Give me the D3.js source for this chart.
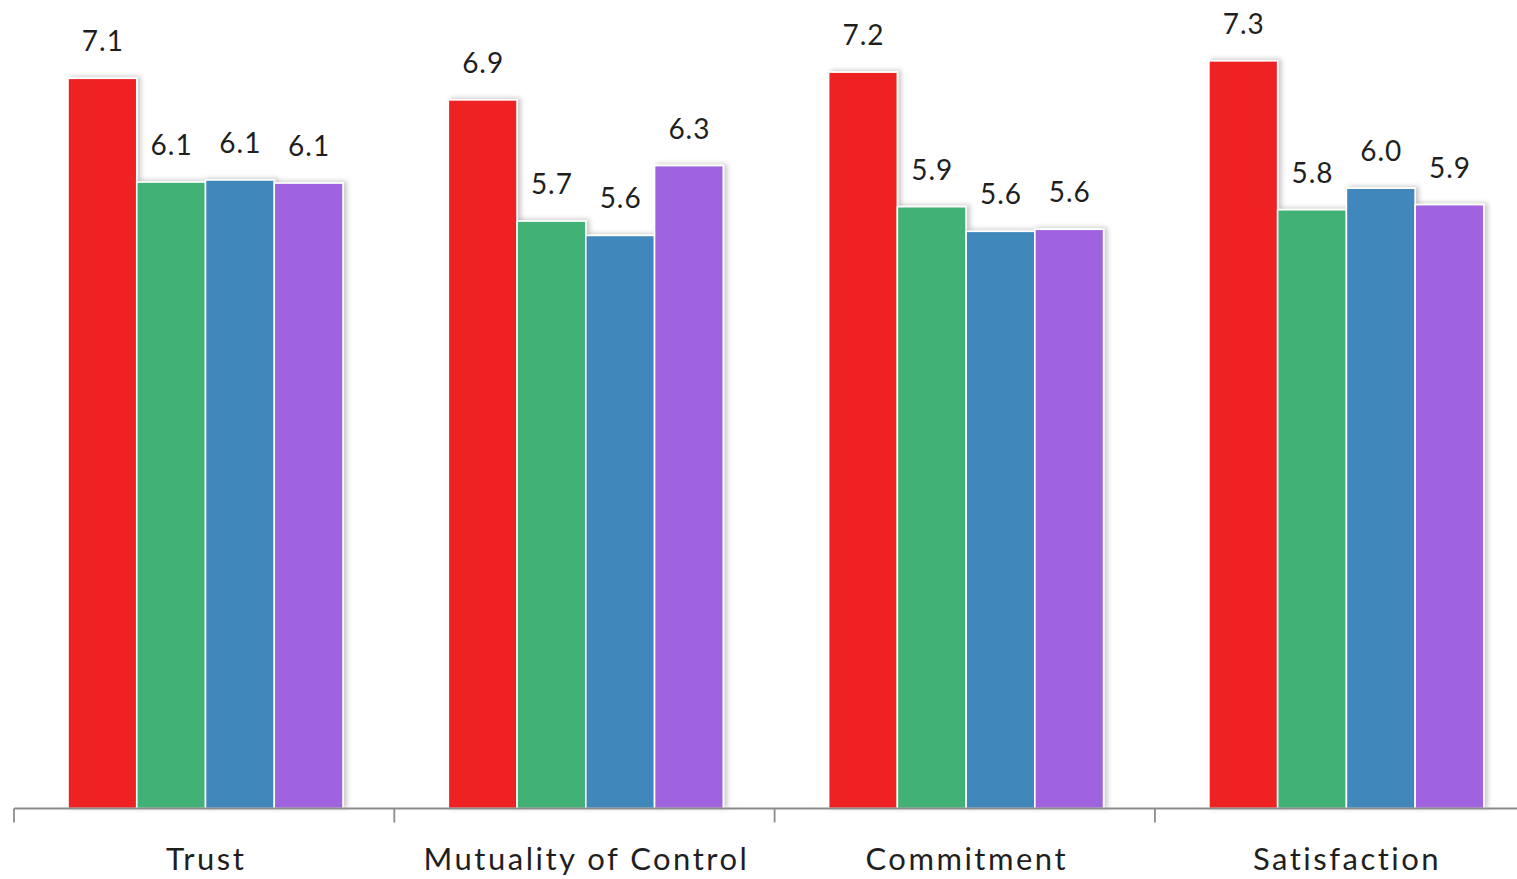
<!DOCTYPE html>
<html>
<head>
<meta charset="utf-8">
<script src="https://cdn.jsdelivr.net/npm/d3@7"></script>
<style>
  html, body { margin: 0; padding: 0; background: #fff; }
  svg { display: block; }
  .value-label { font-family: Lato, "Open Sans", sans-serif; font-size: 28px; letter-spacing: 1px; fill: #1f1f1f; }
  .cat-label { font-family: Lato, "Open Sans", sans-serif; font-size: 31px; letter-spacing: 2.5px; fill: #1f1f1f; }
</style>
</head>
<body>
<svg id="chart" width="1517" height="879"></svg>
<script>
const categories = ['Trust', 'Mutuality of Control', 'Commitment', 'Satisfaction'];
const seriesNames = ['s1', 's2', 's3', 's4'];
const seriesColors = ['#ee2224', '#42b174', '#4187bb', '#a064e0'];

// values, one array per series
const s1Values = [7.11, 6.90, 7.17, 7.28];
const s2Values = [6.10, 5.72, 5.86, 5.83];
const s3Values = [6.12, 5.58, 5.62, 6.04];
const s4Values = [6.09, 6.26, 5.64, 5.88];

const allSeries = [s1Values, s2Values, s3Values, s4Values];
const rows = categories.map((c, i) => ({
  category: c,
  values: allSeries.map((vals, j) => ({series: seriesNames[j], color: seriesColors[j], value: vals[i]}))
}));

const svg = d3.select('#chart');
const baseY = 808.5;
const bandStart = 14, bandStep = 380.3;

const x0 = d3.scaleBand()
  .domain(categories)
  .range([bandStart, bandStart + bandStep * categories.length])
  .padding(0);
const x1 = d3.scaleBand()
  .domain(seriesNames)
  .range([54, 329])
  .padding(0);
const y = d3.scaleLinear()
  .domain([0, 8])
  .range([baseY, baseY - 8 * 102.7]);

const defs = svg.append('defs');
const shadow = defs.append('filter')
  .attr('id', 'barShadow')
  .attr('x', '-20%').attr('y', '-5%')
  .attr('width', '150%').attr('height', '110%');
shadow.append('feDropShadow')
  .attr('dx', 3).attr('dy', -1)
  .attr('stdDeviation', 2.5)
  .attr('flood-color', '#000')
  .attr('flood-opacity', 0.22);

const groups = svg.append('g').attr('class', 'groups')
  .selectAll('g.cat')
  .data(rows)
  .join('g')
  .attr('class', 'cat')
  .attr('transform', d => `translate(${x0(d.category)},0)`);

groups.selectAll('rect')
  .data(d => d.values)
  .join('rect')
  .attr('x', d => x1(d.series))
  .attr('y', d => y(d.value))
  .attr('width', x1.bandwidth())
  .attr('height', d => baseY - y(d.value))
  .attr('fill', d => d.color)
  .attr('stroke', '#fff')
  .attr('stroke-width', 1.6)
  .attr('filter', 'url(#barShadow)');

groups.selectAll('text.value-label')
  .data(d => d.values)
  .join('text')
  .attr('class', 'value-label')
  .attr('x', d => x1(d.series) + x1.bandwidth() / 2 + 0.5)
  .attr('y', d => y(d.value) - 27)
  .attr('text-anchor', 'middle')
  .text(d => d.value.toFixed(1));

// category axis
const axis = d3.axisBottom(x0).tickSize(0).tickFormat('');
const axisG = svg.append('g')
  .attr('transform', `translate(0,${baseY})`)
  .call(axis);
axisG.select('.domain').remove();

axisG.append('line')
  .attr('x1', bandStart).attr('x2', 1517)
  .attr('y1', 0).attr('y2', 0)
  .attr('stroke', '#8c8c8c').attr('stroke-width', 1.8);

axisG.selectAll('line.band-tick')
  .data(categories)
  .join('line')
  .attr('class', 'band-tick')
  .attr('x1', d => x0(d)).attr('x2', d => x0(d))
  .attr('y1', 0).attr('y2', 14)
  .attr('stroke', '#8c8c8c').attr('stroke-width', 1.8);

svg.append('g').selectAll('text.cat-label')
  .data(categories)
  .join('text')
  .attr('class', 'cat-label')
  .attr('x', d => x0(d) + x0.bandwidth() / 2 + 2)
  .attr('y', 870)
  .attr('text-anchor', 'middle')
  .text(d => d);
</script>
</body>
</html>
